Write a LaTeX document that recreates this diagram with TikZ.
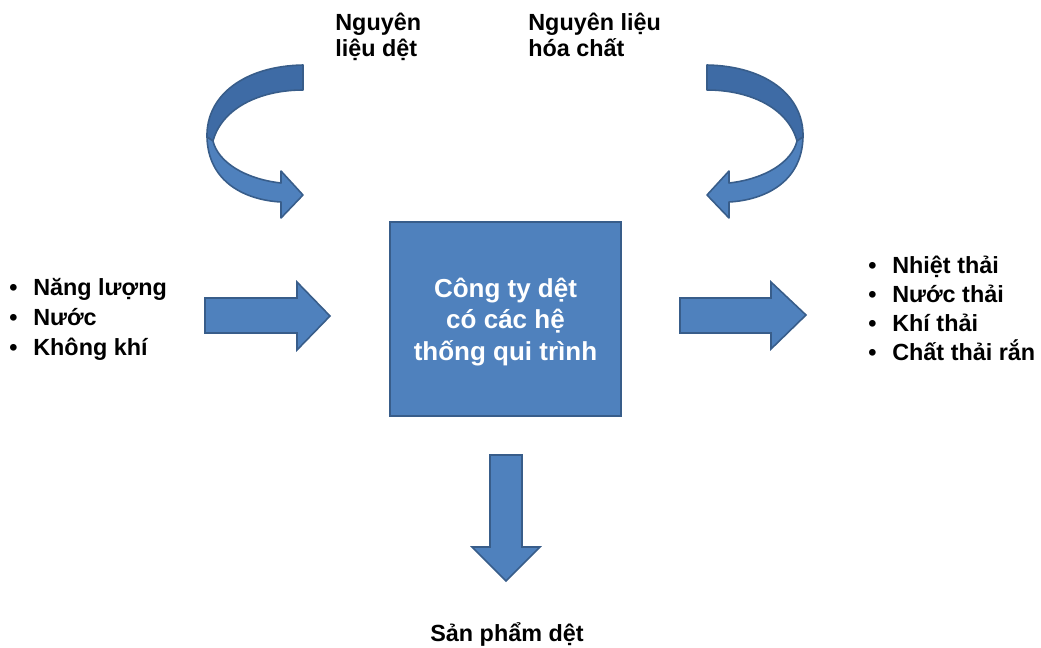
\documentclass[tikz,border=0pt]{standalone}
\usepackage{fontspec}
\setmainfont{Liberation Sans}
\usepackage{tikz}
\usetikzlibrary{positioning}
\usepackage{xcolor}
\definecolor{boxblue}{RGB}{79,129,189}
\definecolor{boxedge}{RGB}{56,93,138}
\definecolor{backblue}{RGB}{62,107,165}
\newcommand{\blt}{\makebox[0.48cm][l]{\textbullet}}
% curved ribbon arrow, drawn in pixel units
\newcommand{\ribbonarrow}{%
  \filldraw[ribbon,fill=backblue] (303,65) .. controls (245,66) and (206,95) .. (207,137)
    -- (213,141) .. controls (222,108) and (260,90) .. (303,90) -- cycle;
  \filldraw[ribbon,fill=boxblue] (207,137) .. controls (208,182) and (245,200) .. (281,202)
    -- (281,218) -- (303,195) -- (281,171) -- (281,183)
    .. controls (245,179) and (218,162) .. (213,141) -- cycle;
}

\begin{document}
\begin{tikzpicture}[x=0.02cm,y=-0.02cm,
  ribbon/.style={draw=boxedge,line width=0.9pt,line join=round},
  blockarrow/.style={draw=boxedge,fill=boxblue,line width=0.9pt},
  lbl/.style={font=\bfseries\fontsize{13.3}{17}\selectfont,align=left,inner sep=0pt},
  boxtxt/.style={font=\bfseries\fontsize{14.8}{17.8}\selectfont,text=white,align=center}
]
\useasboundingbox (0,0) rectangle (1041,647);

% centre box
\node[draw=boxedge,fill=boxblue,line width=1.2pt,minimum width=4.62cm,minimum height=3.88cm]
  (company) at (505.5,319) {};
\node[boxtxt] (companytxt) at (505.5,322) {Công ty dệt\\có các hệ\\thống qui trình};

% top labels
\node[lbl,anchor=base west,font=\bfseries\fontsize{13.3}{14.8}\selectfont] (textile) at (335,56)
  {Nguyên\\liệu dệt};
\node[lbl,anchor=base west,font=\bfseries\fontsize{13.3}{14.8}\selectfont] (chem) at (528,56)
  {Nguyên liệu\\hóa chất};

% inputs and outputs
\node[lbl,anchor=base west] (inputs) at (9,355) {\blt Năng lượng\\\blt Nước\\\blt Không khí};
\node[lbl,anchor=base west,font=\bfseries\fontsize{13.3}{16.5}\selectfont] (outputs) at (868,360)
  {\blt Nhiệt thải\\\blt Nước thải\\\blt Khí thải\\\blt Chất thải rắn};
\node[lbl,anchor=base] (product) at (507,641) {Sản phẩm dệt};

% straight arrows
\filldraw[blockarrow] (205,298) -- (297,298) -- (297,282) -- (330,316) -- (297,350)
  -- (297,333) -- (205,333) -- cycle;
\filldraw[blockarrow] (680,298) -- (771,298) -- (771,282) -- (806,315) -- (771,349)
  -- (771,333) -- (680,333) -- cycle;
\filldraw[blockarrow] (490,455) -- (522,455) -- (522,547) -- (540,547) -- (506,581)
  -- (472,547) -- (490,547) -- cycle;

% curved arrows
\ribbonarrow
\begin{scope}[shift={(1010,0)},xscale=-1]
  \ribbonarrow
\end{scope}
\end{tikzpicture}
\end{document}
